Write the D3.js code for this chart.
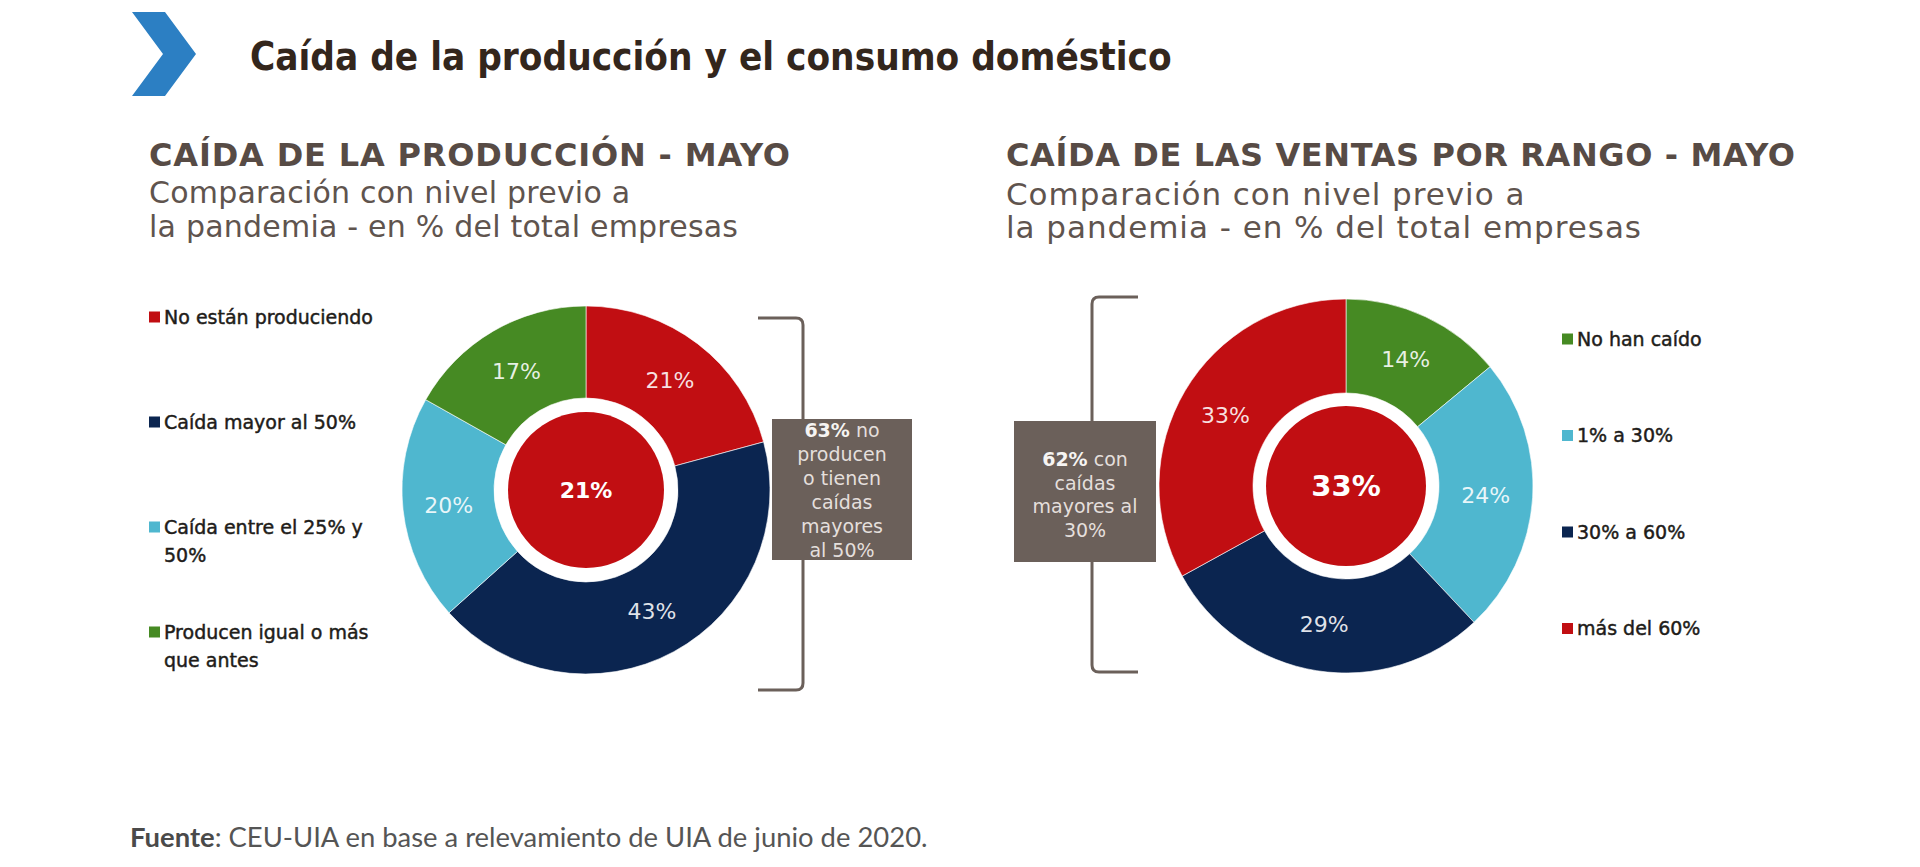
<!DOCTYPE html>
<html><head><meta charset="utf-8">
<script src="https://cdn.jsdelivr.net/npm/d3@7"></script>
<style>body{margin:0;background:#fff;} svg{display:block;}</style>
</head><body>
<svg id="chart" width="1920" height="867"></svg>
<script>
// ---------- data ----------
const pageTitle = "Caída de la producción y el consumo doméstico";
const prodTitle = "CAÍDA DE LA PRODUCCIÓN - MAYO";
const ventasTitle = "CAÍDA DE LAS VENTAS POR RANGO - MAYO";
const subtitleLines = ["Comparación con nivel previo a", "la pandemia - en % del total empresas"];

const prodCategories = ["No están produciendo", "Caída mayor al 50%", "Caída entre el 25% y 50%", "Producen igual o más que antes"];
const prodLegendLines = [["No están produciendo"], ["Caída mayor al 50%"], ["Caída entre el 25% y", "50%"], ["Producen igual o más", "que antes"]];
const prodValues = [21, 43, 20, 17];
const prodCenterValue = 21;
const prodBoxLines = [["63%", " no"], ["", "producen"], ["", "o tienen"], ["", "caídas"], ["", "mayores"], ["", "al 50%"]];

const ventasCategories = ["No han caído", "1% a 30%", "30% a 60%", "más del 60%"];
const ventasValues = [14, 24, 29, 33];
const ventasCenterValue = 33;
const ventasBoxLines = [["62%", " con"], ["", "caídas"], ["", "mayores al"], ["", "30%"]];

const sourceBold = "Fuente";
const sourceText = ": CEU-UIA en base a relevamiento de UIA de junio de 2020.";

// ---------- styles ----------
const RED = "#c10e12", NAVY = "#0b2550", CYAN = "#4fb7cf", GREEN = "#468a23";
const prodColor = d3.scaleOrdinal().domain(prodCategories).range([RED, NAVY, CYAN, GREEN]);
const ventasColor = d3.scaleOrdinal().domain(ventasCategories).range([GREEN, CYAN, NAVY, RED]);
const FONT = "'DejaVu Sans', Verdana, sans-serif";
const FONT_C = "'DejaVu Sans Condensed', 'DejaVu Sans', sans-serif";
const BOX = "#6b605a";

const svg = d3.select("#chart");

function fitWidth(sel, target) {
  const w = sel.node().getBBox().width;
  const fs = parseFloat(sel.attr("font-size"));
  const nf = fs * target / w;
  sel.attr("font-size", nf);
  return nf;
}
function fitSpacing(sel, target) {
  const w = sel.node().getBBox().width;
  const n = sel.text().length;
  sel.attr("letter-spacing", (target - w) / (n - 1));
}

// ---------- header ----------
svg.append("path")
  .attr("d", d3.line()([[132,12],[165,12],[196,54],[165,96],[132,96],[163,54]]) + "Z")
  .attr("fill", "#2c7fc3");

const t = svg.append("text").attr("x", 250).attr("y", 70)
  .attr("font-family", FONT_C).attr("font-stretch", "condensed")
  .attr("font-weight", "bold").attr("font-size", 34)
  .attr("fill", "#33261c").text(pageTitle);
fitWidth(t, 922);

function panelHeader(x, title, titleW, titleSize, line2W, lineSize, b1, b2) {
  const h = svg.append("text").attr("x", x).attr("y", 166)
    .attr("font-family", FONT).attr("font-weight", "bold").attr("font-size", titleSize)
    .attr("fill", "#574b45").text(title);
  fitSpacing(h, titleW);
  const l2 = svg.append("text").attr("x", x).attr("y", b2)
    .attr("font-family", FONT).attr("font-size", lineSize).attr("fill", "#5f544e").text(subtitleLines[1]);
  fitSpacing(l2, line2W);
  svg.append("text").attr("x", x).attr("y", b1)
    .attr("font-family", FONT).attr("font-size", lineSize)
    .attr("letter-spacing", l2.attr("letter-spacing"))
    .attr("fill", "#5f544e").text(subtitleLines[0]);
}
panelHeader(149, prodTitle, 641, 32, 589, 30, 203, 237);
panelHeader(1006, ventasTitle, 789, 32, 635, 31, 205, 238);

// ---------- donuts ----------
function donut(cx, cy, rOuter, rInner, rCore, values, cats, color, centerValue, centerSize) {
  const g = svg.append("g").attr("transform", `translate(${cx},${cy})`);
  const pie = d3.pie().sort(null).value(d => d.v);
  const data = pie(values.map((v, i) => ({v, c: cats[i]})));
  const arc = d3.arc().innerRadius(rInner).outerRadius(rOuter);
  g.selectAll("path.slice").data(data).join("path").attr("class", "slice")
    .attr("d", arc).attr("fill", d => color(d.data.c))
    .attr("stroke", "#fff").attr("stroke-width", 0.6);
  g.selectAll("text.lbl").data(data).join("text").attr("class", "lbl")
    .attr("transform", d => `translate(${arc.centroid(d)})`)
    .attr("text-anchor", "middle").attr("dy", "0.36em")
    .attr("font-family", FONT).attr("font-size", 22)
    .attr("fill", "#fff").attr("fill-opacity", 0.88)
    .text(d => d.data.v + "%");
  g.append("circle").attr("r", rCore).attr("fill", RED);
  g.append("text").attr("text-anchor", "middle").attr("dy", "0.36em")
    .attr("font-family", FONT).attr("font-weight", "bold").attr("font-size", centerSize)
    .attr("fill", "#fff").text(centerValue + "%");
}
donut(586, 490, 184, 92, 78, prodValues, prodCategories, prodColor, prodCenterValue, 22);
donut(1346, 486, 187, 93, 80, ventasValues, ventasCategories, ventasColor, ventasCenterValue, 29);

// ---------- legends ----------
function legend(x, y0, step, linesArr, cats, color) {
  linesArr.forEach((lines, i) => {
    const y = y0 + i * step;
    svg.append("rect").attr("x", x).attr("y", y - 5.5).attr("width", 11).attr("height", 11)
      .attr("fill", color(cats[i]));
    const tx = svg.append("text").attr("x", x + 15).attr("y", y)
      .attr("font-family", FONT).attr("font-size", 19).attr("fill", "#211c19")
      .attr("stroke", "#211c19").attr("stroke-width", 0.45);
    lines.forEach((ln, j) => {
      tx.append("tspan").attr("x", x + 15).attr("y", y + j * 28).attr("dy", "0.36em").text(ln);
    });
  });
}
legend(149, 317, 105, prodLegendLines, prodCategories, prodColor);
legend(1562, 339, 96.5, ventasCategories.map(c => [c]), ventasCategories, ventasColor);

// ---------- brackets ----------
function bracket(xv, xEnd, yTop, yBot, r) {
  const dir = xEnd < xv ? -1 : 1;
  const p = d3.path();
  p.moveTo(xEnd, yTop);
  p.lineTo(xv + dir * r, yTop);
  p.quadraticCurveTo(xv, yTop, xv, yTop + r);
  p.lineTo(xv, yBot - r);
  p.quadraticCurveTo(xv, yBot, xv + dir * r, yBot);
  p.lineTo(xEnd, yBot);
  svg.append("path").attr("d", p.toString()).attr("fill", "none")
    .attr("stroke", BOX).attr("stroke-width", 3);
}
bracket(803, 758, 318, 690, 7);
bracket(1092, 1138, 297, 672, 7);

function box(x0, y0, x1, y1, lines, firstBase, lineH) {
  svg.append("rect").attr("x", x0).attr("y", y0).attr("width", x1 - x0).attr("height", y1 - y0)
    .attr("fill", BOX);
  const cx = (x0 + x1) / 2;
  lines.forEach((ln, i) => {
    const tx = svg.append("text").attr("x", cx).attr("y", firstBase + i * lineH)
      .attr("text-anchor", "middle").attr("font-family", FONT).attr("font-size", 19)
      .attr("fill", "#e4dfdc");
    if (ln[0]) tx.append("tspan").attr("font-weight", "bold").attr("fill", "#f6f4f2").text(ln[0]);
    tx.append("tspan").text(ln[1]);
  });
}
box(772, 419, 912, 560, prodBoxLines, 437, 24);
box(1014, 421, 1156, 562, ventasBoxLines, 466, 23.7);

// ---------- source ----------
const src = svg.append("text").attr("x", 130).attr("y", 847)
  .attr("font-family", "Lato, 'Open Sans', sans-serif").attr("font-size", 26).attr("fill", "#555");
src.append("tspan").attr("font-weight", "bold").attr("fill", "#4a4a4a").text(sourceBold);
src.append("tspan").text(sourceText);
fitWidth(src, 798);
</script>
</body></html>
